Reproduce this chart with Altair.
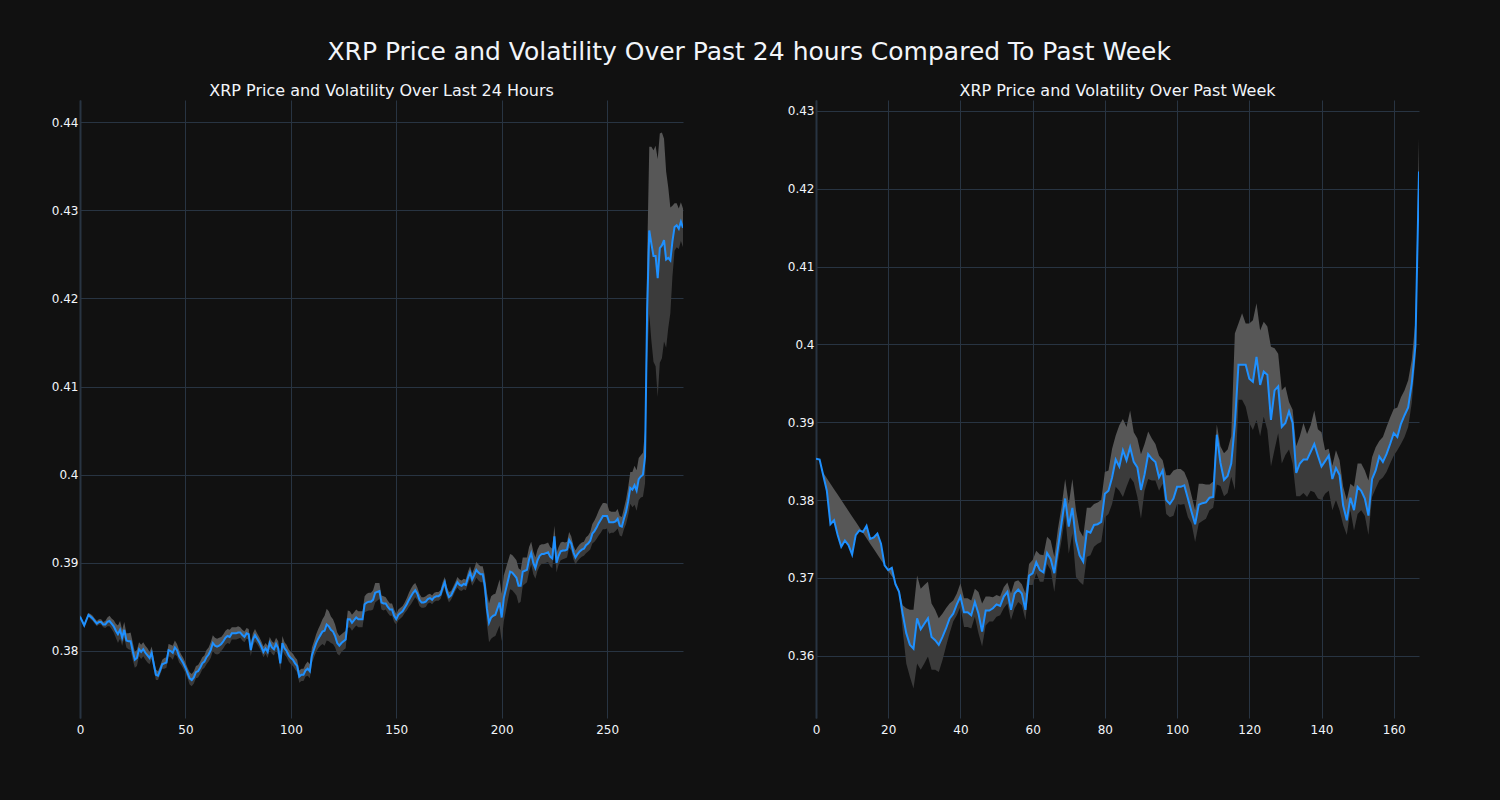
import altair as alt
import pandas as pd

# ---------------- 24h panel (5-minute steps) ----------------
PRICE_24H = [
    .3839, .3834, .3829, .3835, .3841, .3839, .3837, .3834, .3831, .3833,
    .3833, .3830, .3830, .3833, .3834, .3831, .3828, .3823, .3819, .3824,
    .3815, .3824, .3812, .3811, .3811, .3800, .3790, .3792, .3802, .3799,
    .3802, .3798, .3795, .3792, .3798, .3785, .3773, .3772, .3778, .3785,
    .3786, .3787, .3801, .3800, .3798, .3804, .3801, .3794, .3790, .3786,
    .3781, .3775, .3769, .3767, .3770, .3776, .3777, .3781, .3786, .3788,
    .3793, .3796, .3801, .3809, .3806, .3805, .3806, .3808, .3811, .3815,
    .3817, .3816, .3820, .3820, .3820, .3821, .3821, .3818, .3816, .3820,
    .3819, .3801, .3813, .3818, .3814, .3810, .3805, .3799, .3803, .3799,
    .3809, .3804, .3802, .3808, .3803, .3786, .3809, .3803, .3800, .3795,
    .3792, .3790, .3786, .3783, .3771, .3773, .3773, .3778, .3780, .3777,
    .3795, .3802, .3809, .3814, .3818, .3822, .3823, .3830, .3828, .3824,
    .3822, .3817, .3809, .3806, .3809, .3811, .3813, .3836, .3836, .3832,
    .3835, .3838, .3836, .3836, .3836, .3853, .3855, .3856, .3856, .3858,
    .3866, .3867, .3868, .3855, .3854, .3854, .3850, .3847, .3847, .3840,
    .3836, .3841, .3843, .3845, .3849, .3853, .3858, .3862, .3866, .3869,
    .3865, .3858, .3855, .3855, .3856, .3859, .3860, .3858, .3861, .3862,
    .3862, .3864, .3872, .3878, .3867, .3861, .3863, .3868, .3873, .3878,
    .3875, .3874, .3876, .3875, .3883, .3889, .3881, .3886, .3892, .3889,
    .3887, .3887, .3874, .3848, .3832, .3838, .3840, .3841, .3848, .3855,
    .3838, .3860, .3870, .3880, .3890, .3889, .3886, .3883, .3874, .3874,
    .3890, .3891, .3892, .3904, .3911, .3900, .3894, .3903, .3908, .3910,
    .3910, .3911, .3912, .3907, .3905, .3930, .3900, .3908, .3913, .3914,
    .3914, .3915, .3926, .3922, .3912, .3906, .3910, .3913, .3915, .3916,
    .3920, .3922, .3925, .3933, .3936, .3940, .3945, .3949, .3953, .3953,
    .3953, .3946, .3946, .3946, .3947, .3950, .3942, .3941, .3950, .3958,
    .3970, .3985, .3983, .3988, .3982, .3995, .3998, .4000, .4020, .4187,
    .4277, .4262, .4248, .4248, .4223, .4257, .4260, .4266, .4244, .4246,
    .4243, .4265, .4281, .4283, .4279, .4287, .4280,
]
# volatility half-width, in units of 0.0001 USD
VOL_24H_E4 = [
    2, 2, 2, 2, 2, 3, 3, 3, 3, 3,
    3, 3, 4, 5, 6, 6, 7, 8, 10, 10,
    9, 9, 8, 9, 10, 10, 9, 9, 8, 8,
    8, 8, 8, 7, 7, 6, 6, 5, 5, 5,
    6, 6, 7, 7, 8, 8, 7, 7, 6, 6,
    6, 6, 7, 7, 7, 7, 7, 7, 7, 7,
    8, 8, 9, 9, 9, 9, 9, 8, 8, 8,
    8, 8, 7, 7, 7, 7, 6, 6, 6, 6,
    6, 7, 7, 7, 6, 6, 6, 6, 6, 7,
    7, 7, 7, 7, 8, 8, 8, 7, 7, 7,
    7, 7, 7, 7, 7, 7, 7, 7, 8, 8,
    9, 9, 10, 11, 12, 14, 17, 18, 17, 15,
    14, 13, 12, 11, 10, 10, 10, 10, 9, 9,
    9, 9, 9, 9, 9, 9, 10, 10, 10, 11,
    11, 10, 9, 8, 8, 7, 7, 7, 7, 7,
    6, 6, 6, 6, 6, 7, 8, 9, 9, 8,
    7, 7, 6, 6, 6, 5, 5, 5, 5, 5,
    5, 5, 6, 6, 6, 6, 5, 5, 5, 6,
    6, 6, 6, 6, 7, 7, 7, 8, 9, 9,
    9, 9, 12, 18, 22, 24, 24, 24, 25, 26,
    27, 26, 24, 22, 20, 20, 20, 20, 20, 18,
    16, 15, 14, 14, 13, 13, 12, 12, 12, 11,
    11, 11, 11, 11, 11, 12, 11, 10, 10, 10,
    9, 9, 9, 8, 8, 8, 8, 8, 8, 8,
    9, 9, 10, 11, 12, 13, 14, 15, 15, 15,
    14, 13, 12, 12, 11, 11, 11, 11, 12, 14,
    16, 18, 20, 22, 23, 24, 24, 25, 30, 60,
    95, 110, 120, 125, 135, 130, 128, 115, 100, 80,
    60, 40, 27, 25, 23, 22, 22,
]

# ---------------- week panel (hourly steps) ----------------
PRICE_WEEK = [
    .3853, .3852, .3832, .3812, .3769, .3774, .3755, .3740, .3748, .3742,
    .3730, .3755, .3761, .3759, .3767, .3750, .3752, .3757, .3744, .3716,
    .3710, .3713, .3692, .3682, .3654, .3629, .3614, .3609, .3648, .3634,
    .3641, .3648, .3624, .3620, .3614, .3624, .3635, .3648, .3654, .3666,
    .3676, .3656, .3656, .3652, .3669, .3654, .3631, .3658, .3658, .3661,
    .3666, .3664, .3676, .3682, .3659, .3680, .3685, .3680, .3659, .3703,
    .3706, .3720, .3710, .3707, .3732, .3724, .3706, .3738, .3770, .3802,
    .3766, .3790, .3748, .3729, .3721, .3760, .3758, .3768, .3769, .3772,
    .3808, .3812, .3829, .3852, .3843, .3864, .3851, .3868, .3849, .3842,
    .3813, .3833, .3859, .3853, .3849, .3829, .3838, .3800, .3795, .3802,
    .3817, .3817, .3819, .3802, .3785, .3769, .3794, .3796, .3797, .3803,
    .3804, .3884, .3848, .3826, .3831, .3847, .3897, .3974, .3974, .3974,
    .3956, .3952, .3984, .3948, .3965, .3961, .3903, .3941, .3946, .3894,
    .3899, .3914, .3899, .3835, .3847, .3852, .3852, .3862, .3872, .3857,
    .3843, .3850, .3857, .3827, .3841, .3832, .3793, .3774, .3803, .3787,
    .3817, .3812, .3802, .3780, .3827, .3838, .3856, .3849, .3859, .3872,
    .3886, .3881, .3898, .3909, .3919, .3950, .3998, .4222,
]
UPPER_WEEK = [
    .3853, .3852, .3835, .3828, .3821, .3814, .3807, .3800, .3793, .3786,
    .3779, .3772, .3765, .3758, .3751, .3744, .3737, .3730, .3723, .3716,
    .3709, .3702, .3695, .3685, .3665, .3661, .3659, .3659, .3703, .3686,
    .3691, .3695, .3667, .3659, .3648, .3654, .3661, .3667, .3671, .3680,
    .3693, .3674, .3674, .3671, .3686, .3682, .3667, .3676, .3676, .3675,
    .3678, .3676, .3688, .3694, .3680, .3695, .3697, .3692, .3680, .3718,
    .3723, .3735, .3730, .3729, .3753, .3748, .3727, .3763, .3791, .3827,
    .3795, .3827, .3787, .3761, .3753, .3790, .3790, .3795, .3797, .3800,
    .3836, .3838, .3866, .3883, .3896, .3904, .3894, .3915, .3887, .3879,
    .3859, .3872, .3888, .3879, .3872, .3857, .3851, .3832, .3832, .3838,
    .3840, .3840, .3836, .3825, .3806, .3787, .3821, .3821, .3820, .3820,
    .3824, .3897, .3869, .3860, .3865, .3882, .4014, .4027, .4040, .4027,
    .4027, .4031, .4053, .4018, .4029, .4023, .3997, .3995, .3988, .3941,
    .3946, .3926, .3916, .3869, .3882, .3899, .3885, .3896, .3915, .3891,
    .3887, .3864, .3866, .3844, .3864, .3851, .3817, .3800, .3821, .3817,
    .3847, .3847, .3838, .3825, .3855, .3868, .3876, .3881, .3894, .3906,
    .3917, .3919, .3932, .3941, .3954, .3980, .4030, .4265,
]
LOWER_WEEK = [
    .3853, .3852, .3832, .3812, .3769, .3774, .3755, .3740, .3748, .3742,
    .3730, .3755, .3761, .3759, .3767, .3750, .3752, .3757, .3744, .3716,
    .3710, .3713, .3692, .3680, .3633, .3590, .3573, .3558, .3590, .3582,
    .3590, .3599, .3582, .3582, .3579, .3594, .3612, .3629, .3644, .3652,
    .3663, .3637, .3637, .3635, .3650, .3629, .3612, .3639, .3644, .3644,
    .3650, .3652, .3661, .3667, .3646, .3661, .3669, .3665, .3646, .3691,
    .3691, .3706, .3695, .3695, .3718, .3710, .3682, .3721, .3748, .3780,
    .3731, .3757, .3701, .3695, .3691, .3727, .3729, .3740, .3744, .3746,
    .3778, .3782, .3795, .3817, .3812, .3804, .3817, .3829, .3823, .3804,
    .3776, .3812, .3827, .3825, .3825, .3812, .3821, .3782, .3778, .3780,
    .3795, .3794, .3795, .3778, .3770, .3746, .3770, .3773, .3776, .3787,
    .3790, .3820, .3818, .3805, .3809, .3830, .3813, .3929, .3929, .3920,
    .3899, .3890, .3903, .3882, .3907, .3890, .3843, .3865, .3886, .3847,
    .3858, .3865, .3847, .3805, .3805, .3809, .3804, .3812, .3810, .3802,
    .3800, .3808, .3812, .3787, .3800, .3787, .3768, .3755, .3787, .3761,
    .3782, .3787, .3780, .3755, .3804, .3815, .3825, .3829, .3836, .3847,
    .3857, .3864, .3872, .3881, .3894, .3925, .3980, .4215,
]

TITLE_MAIN = "XRP Price and Volatility Over Past 24 hours Compared To Past Week"
TITLE_24H = "XRP Price and Volatility Over Last 24 Hours"
TITLE_WEEK = "XRP Price and Volatility Over Past Week"

FONT = "DejaVu Sans"
BG = "#111111"
GRID = "#283442"
TXT = "#f2f5fa"
LINE = "#1e90ff"
BAND_LIGHT = "#575757"
BAND_DARK = "#3b3b3b"

df24 = pd.DataFrame({
    "x": list(range(len(PRICE_24H))),
    "price": PRICE_24H,
})
df24["upper"] = df24["price"] + pd.Series(VOL_24H_E4) * 1e-4
df24["lower"] = df24["price"] - pd.Series(VOL_24H_E4) * 1e-4

dfw = pd.DataFrame({
    "x": list(range(len(PRICE_WEEK))),
    "price": PRICE_WEEK,
    "upper": UPPER_WEEK,
    "lower": LOWER_WEEK,
})


def panel(df, title, xdom, xticks, ydom, yticks):
    xs = alt.Scale(domain=xdom, nice=False, zero=False)
    ys = alt.Scale(domain=ydom, nice=False, zero=False)
    xax = alt.Axis(values=xticks, grid=True, gridColor=GRID, gridWidth=1,
                   domain=False, ticks=False, labelPadding=6, title=None,
                   labelFlush=False, labelOverlap=False,
                   labelColor=TXT, labelFontSize=12, labelFont=FONT)
    yax = alt.Axis(values=yticks, grid=True, gridColor=GRID, gridWidth=1,
                   domain=True, domainColor=GRID, domainWidth=2,
                   ticks=False, labelPadding=2, title=None, format=".2~f",
                   labelFlush=False, labelOverlap=False,
                   labelColor=TXT, labelFontSize=12, labelFont=FONT)
    base = alt.Chart(df)
    dark = base.mark_area(color=BAND_DARK, clip=True, interpolate="linear").encode(
        x=alt.X("x:Q", scale=xs, axis=xax),
        y=alt.Y("lower:Q", scale=ys, axis=yax),
        y2="price:Q",
    )
    light = base.mark_area(color=BAND_LIGHT, clip=True, interpolate="linear").encode(
        x=alt.X("x:Q", scale=xs),
        y=alt.Y("price:Q", scale=ys),
        y2="upper:Q",
    )
    line = base.mark_line(color=LINE, strokeWidth=2, clip=True).encode(
        x=alt.X("x:Q", scale=xs),
        y=alt.Y("price:Q", scale=ys),
    )
    return alt.layer(dark, light, line).properties(
        width=603, height=618,
        title=alt.TitleParams(title, font=FONT, fontSize=16, color=TXT,
                              fontWeight="normal", anchor="middle",
                              frame="group", offset=1),
    )


left = panel(df24, TITLE_24H, [0, 286], [0, 50, 100, 150, 200, 250],
             [0.3724, 0.4425], [0.38, 0.39, 0.40, 0.41, 0.42, 0.43, 0.44])
right = panel(dfw, TITLE_WEEK, [0, 167], [0, 20, 40, 60, 80, 100, 120, 140, 160],
              [0.3520, 0.4314], [0.36, 0.37, 0.38, 0.39, 0.40, 0.41, 0.42, 0.43])

chart = alt.hconcat(left, right, spacing=104).properties(
    title=alt.TitleParams(TITLE_MAIN, font=FONT, fontSize=25, color=TXT,
                          fontWeight="normal", anchor="middle", offset=18, dx=14),
    background=BG,
    padding={"left": 51, "top": 40, "right": 81, "bottom": 66},
).configure_view(stroke=None)

chart.save("out.html", embed_options={"renderer": "svg", "actions": False})
